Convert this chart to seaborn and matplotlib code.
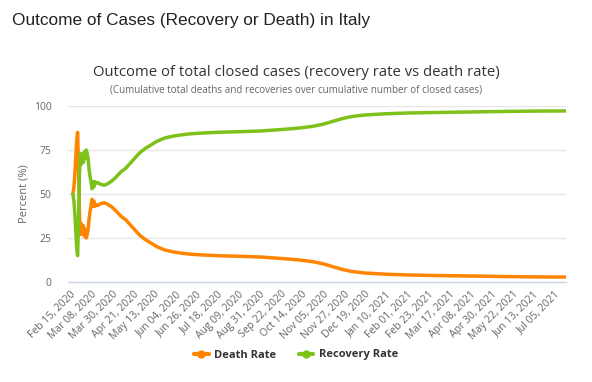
import pandas as pd
import matplotlib.pyplot as plt
import matplotlib.dates as mdates
from matplotlib.lines import Line2D
import seaborn as sns

# values (percent of closed cases)
dates = [
    "2020-02-18", "2020-02-19", "2020-02-20", "2020-02-21", "2020-02-22", "2020-02-23",
    "2020-02-24", "2020-02-25", "2020-02-26", "2020-02-27", "2020-02-28", "2020-02-29",
    "2020-03-01", "2020-03-02", "2020-03-03", "2020-03-04", "2020-03-05", "2020-03-06",
    "2020-03-07", "2020-03-08", "2020-03-09", "2020-03-10", "2020-03-11", "2020-03-12",
    "2020-03-13", "2020-03-15", "2020-03-18", "2020-03-22", "2020-03-26", "2020-03-30",
    "2020-04-03", "2020-04-08", "2020-04-13", "2020-04-18", "2020-04-23", "2020-04-28",
    "2020-05-04", "2020-05-10", "2020-05-16", "2020-05-24", "2020-06-01", "2020-06-10",
    "2020-06-20", "2020-07-01", "2020-07-20", "2020-08-10", "2020-09-01", "2020-09-22",
    "2020-10-10", "2020-10-25", "2020-11-05", "2020-11-15", "2020-11-25", "2020-12-05",
    "2020-12-19", "2021-01-10", "2021-02-01", "2021-03-01", "2021-04-08", "2021-05-13",
    "2021-06-13", "2021-07-17",
]
recovery_rate = [
    50, 47, 40, 30, 20, 15, 35, 62, 73, 67, 72, 68,
    74, 70, 75, 73, 70, 64, 60, 57, 53, 57, 54, 57,
    56, 56.5, 55.5, 55, 56, 57.5, 59.5, 62.5, 64.5, 67.5, 70.5, 73.5,
    76, 78, 80, 81.8, 82.8, 83.6, 84.2, 84.6, 85.1, 85.4, 85.8, 86.6,
    87.4, 88.4, 89.6, 91.2, 92.8, 94, 94.9, 95.6, 96, 96.3, 96.6, 96.9,
    97.1, 97.2,
]
death_rate = [
    50, 53, 60, 70, 80, 85, 65, 38, 27, 33, 28, 32,
    26, 30, 25, 27, 30, 36, 40, 43, 47, 43, 46, 43,
    44, 43.5, 44.5, 45, 44, 42.5, 40.5, 37.5, 35.5, 32.5, 29.5, 26.5,
    24, 22, 20, 18.2, 17.2, 16.4, 15.8, 15.4, 14.9, 14.6, 14.2, 13.4,
    12.6, 11.6, 10.4, 8.8, 7.2, 6, 5.1, 4.4, 4, 3.7, 3.4, 3.1,
    2.9, 2.8,
]
series_names = ["Death Rate", "Recovery Rate"]
colors = ["#FF8500", "#7DC11A"]

df = pd.DataFrame({"date": pd.to_datetime(dates),
                   "Death Rate": death_rate,
                   "Recovery Rate": recovery_rate})
long_df = df.melt(id_vars="date", var_name="series", value_name="rate")

sns.set_style("white")
plt.rcParams["font.family"] = ["Open Sans", "DejaVu Sans"]

fig = plt.figure(figsize=(5.92, 3.82), dpi=100)
ax = fig.add_axes([0.1149, 0.2618, 0.8412, 0.4607])

sns.lineplot(data=long_df, x="date", y="rate", hue="series", hue_order=series_names,
             palette=colors, linewidth=2.5, ax=ax, legend=False)

ax.set_ylim(0, 100)
ax.set_xlim(pd.Timestamp("2020-02-13"), pd.Timestamp("2021-07-17"))
ax.set_yticks([0, 25, 50, 75, 100])
ax.yaxis.grid(True, color="#e6e6e6", linewidth=1)
ax.xaxis.grid(False)
for s in ["top", "right", "left"]:
    ax.spines[s].set_visible(False)
ax.spines["bottom"].set_color("#ccd6eb")
ax.spines["bottom"].set_linewidth(1)

tick_dates = pd.date_range("2020-02-15", "2021-07-05", freq="22D")
ax.set_xticks(tick_dates)
ax.xaxis.set_major_formatter(mdates.DateFormatter("%b %d, %Y"))
plt.setp(ax.get_xticklabels(), rotation=45, ha="right", rotation_mode="anchor")
ax.tick_params(axis="x", length=0, pad=5, labelsize=7.5, labelcolor="#666666")
ax.tick_params(axis="y", length=0, pad=12, labelsize=7.5, labelcolor="#666666")
ax.set_xlabel("")
ax.set_ylabel("Percent (%)", fontsize=8, color="#666666", labelpad=3)

fig.text(12 / 592, 1 - 21 / 382, "Outcome of Cases (Recovery or Death) in Italy",
         fontsize=12.4, family="Liberation Sans", color="#222222", va="center")
fig.text(0.5, 1 - 72 / 382,
         "Outcome of total closed cases (recovery rate vs death rate)",
         fontsize=10.7, color="#333333", ha="center", va="center")
fig.text(0.5, 1 - 90 / 382,
         "(Cumulative total deaths and recoveries over cumulative number of closed cases)",
         fontsize=7.1, color="#666666", ha="center", va="center")

handles = [Line2D([0], [0], color=c, linewidth=3, marker="o", markersize=5)
           for c in colors]
fig.legend(handles, series_names, loc="center", bbox_to_anchor=(0.5, 1 - 355 / 382),
           ncol=2, frameon=False, handlelength=1.3, handletextpad=0.5,
           columnspacing=2.0, prop={"weight": "bold", "size": 8})
for t in fig.legends[0].get_texts():
    t.set_color("#333333")

fig.savefig("out.png", dpi=100)
